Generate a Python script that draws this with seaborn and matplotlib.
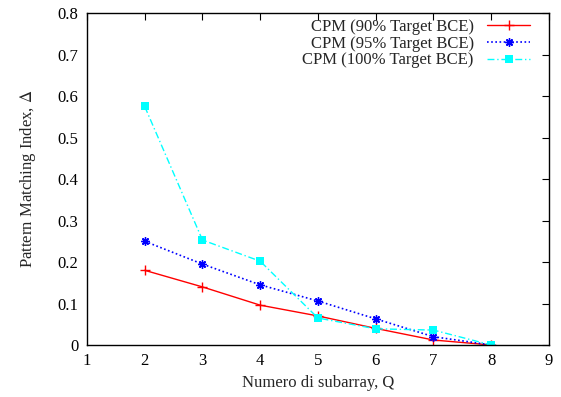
import pandas as pd
import matplotlib.pyplot as plt
import seaborn as sns

q = [2, 3, 4, 5, 6, 7, 8]
cpm90 = [0.180, 0.140, 0.096, 0.070, 0.040, 0.012, 0.0]
cpm95 = [0.250, 0.195, 0.145, 0.106, 0.063, 0.020, 0.0]
cpm100 = [0.575, 0.253, 0.202, 0.065, 0.039, 0.036, 0.0]
labels = ['CPM (90% Target BCE)', 'CPM (95% Target BCE)', 'CPM (100% Target BCE)']

sns.set_style('white')
plt.rcParams['font.family'] = ['Liberation Serif', 'DejaVu Serif']
plt.rcParams['mathtext.fontset'] = 'stix'

fig = plt.figure(figsize=(5.61, 3.97), dpi=100)
ax = fig.add_axes([0.155, 0.131, 0.8235, 0.836])

df = pd.DataFrame({'Q': q, 'a': cpm90, 'b': cpm95, 'c': cpm100})

sns.lineplot(data=df, x='Q', y='a', ax=ax, color='red', lw=1, marker='+',
             markersize=7, mew=1, mec='red', label=labels[0])
sns.lineplot(data=df, x='Q', y='b', ax=ax, color='blue', lw=1.2, marker=(8, 2, 0),
             markersize=6, mew=1, mec='blue', linestyle=(0, (1, 1.5)), label=labels[1])
sns.lineplot(data=df, x='Q', y='c', ax=ax, color='cyan', lw=1, marker='s',
             markersize=6, mew=0, mfc='cyan', linestyle=(0, (5, 2, 1, 2)), label=labels[2])

ax.set_xlim(1, 9)
ax.set_ylim(0, 0.8)
ax.set_xticks(range(1, 10))
ax.set_yticks([0, 0.1, 0.2, 0.3, 0.4, 0.5, 0.6, 0.7, 0.8])
ax.set_yticklabels(['0', '0.1', '0.2', '0.3', '0.4', '0.5', '0.6', '0.7', '0.8'])
ax.tick_params(direction='in', top=True, right=True, length=5, width=0.8,
               labelsize=12, colors='black', pad=6)
for s in ax.spines.values():
    s.set_color('black')
    s.set_linewidth(1)
ax.set_xlabel('Numero di subarray, Q', fontsize=12)
ax.set_ylabel(r'Pattern Matching Index, $\Delta$', fontsize=12, labelpad=14)

ax.legend(loc='upper right', bbox_to_anchor=(0.985, 1.018), frameon=False,
          markerfirst=False, fontsize=12, handlelength=2.6, labelspacing=0.05,
          borderaxespad=0.3, handletextpad=0.8)

fig.savefig('out.png', dpi=100)
